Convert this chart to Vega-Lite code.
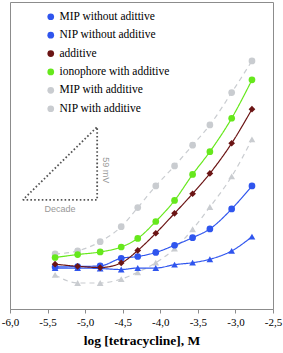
{
  "$schema": "https://vega.github.io/schema/vega-lite/v6.json",
  "width": 263,
  "height": 307,
  "autosize": {"type": "none"},
  "padding": {"left": 10, "top": 2, "right": 10, "bottom": 44},
  "background": "white",
  "config": {"view": {"stroke": "#8c8c8c", "strokeWidth": 1}, "font": "Liberation Serif"},
  "data": {"values": [
    {"series": "MIP with additive", "x": -5.4, "y": 44.5},
    {"series": "MIP with additive", "x": -5.1, "y": 46.9},
    {"series": "MIP with additive", "x": -4.8, "y": 54.4},
    {"series": "MIP with additive", "x": -4.52, "y": 66.5},
    {"series": "MIP with additive", "x": -4.3, "y": 81.9},
    {"series": "MIP with additive", "x": -4.06, "y": 99.4},
    {"series": "MIP with additive", "x": -3.81, "y": 115.6},
    {"series": "MIP with additive", "x": -3.57, "y": 132.3},
    {"series": "MIP with additive", "x": -3.34, "y": 148.7},
    {"series": "MIP with additive", "x": -3.05, "y": 174.8},
    {"series": "MIP with additive", "x": -2.78, "y": 200.4},
    {"series": "NIP with additive", "x": -5.4, "y": 27.5},
    {"series": "NIP with additive", "x": -5.1, "y": 21.0},
    {"series": "NIP with additive", "x": -4.8, "y": 21.0},
    {"series": "NIP with additive", "x": -4.52, "y": 24.2},
    {"series": "NIP with additive", "x": -4.3, "y": 29.7},
    {"series": "NIP with additive", "x": -4.06, "y": 37.4},
    {"series": "NIP with additive", "x": -3.81, "y": 48.7},
    {"series": "NIP with additive", "x": -3.57, "y": 64.4},
    {"series": "NIP with additive", "x": -3.34, "y": 82.4},
    {"series": "NIP with additive", "x": -3.05, "y": 107.1},
    {"series": "NIP with additive", "x": -2.78, "y": 137.0},
    {"series": "NIP without additive", "x": -5.4, "y": 33.1},
    {"series": "NIP without additive", "x": -5.1, "y": 33.1},
    {"series": "NIP without additive", "x": -4.8, "y": 32.7},
    {"series": "NIP without additive", "x": -4.52, "y": 31.9},
    {"series": "NIP without additive", "x": -4.3, "y": 33.1},
    {"series": "NIP without additive", "x": -4.06, "y": 33.1},
    {"series": "NIP without additive", "x": -3.81, "y": 35.8},
    {"series": "NIP without additive", "x": -3.57, "y": 37.4},
    {"series": "NIP without additive", "x": -3.34, "y": 40.2},
    {"series": "NIP without additive", "x": -3.05, "y": 46.9},
    {"series": "NIP without additive", "x": -2.78, "y": 58.4},
    {"series": "MIP without adittive", "x": -5.4, "y": 33.9},
    {"series": "MIP without adittive", "x": -5.1, "y": 34.3},
    {"series": "MIP without adittive", "x": -4.8, "y": 34.8},
    {"series": "MIP without adittive", "x": -4.52, "y": 41.0},
    {"series": "MIP without adittive", "x": -4.3, "y": 42.4},
    {"series": "MIP without adittive", "x": -4.06, "y": 45.7},
    {"series": "MIP without adittive", "x": -3.81, "y": 51.5},
    {"series": "MIP without adittive", "x": -3.57, "y": 57.6},
    {"series": "MIP without adittive", "x": -3.34, "y": 64.7},
    {"series": "MIP without adittive", "x": -3.05, "y": 80.8},
    {"series": "MIP without adittive", "x": -2.78, "y": 99.4},
    {"series": "additive", "x": -5.4, "y": 36.2},
    {"series": "additive", "x": -5.1, "y": 34.5},
    {"series": "additive", "x": -4.8, "y": 33.5},
    {"series": "additive", "x": -4.52, "y": 37.2},
    {"series": "additive", "x": -4.3, "y": 47.3},
    {"series": "additive", "x": -4.06, "y": 61.2},
    {"series": "additive", "x": -3.81, "y": 77.3},
    {"series": "additive", "x": -3.57, "y": 93.1},
    {"series": "additive", "x": -3.34, "y": 109.5},
    {"series": "additive", "x": -3.05, "y": 133.9},
    {"series": "additive", "x": -2.78, "y": 161.4},
    {"series": "ionophore with additive", "x": -5.4, "y": 41.6},
    {"series": "ionophore with additive", "x": -5.1, "y": 44.0},
    {"series": "ionophore with additive", "x": -4.8, "y": 46.1},
    {"series": "ionophore with additive", "x": -4.52, "y": 50.1},
    {"series": "ionophore with additive", "x": -4.3, "y": 57.0},
    {"series": "ionophore with additive", "x": -4.06, "y": 70.7},
    {"series": "ionophore with additive", "x": -3.81, "y": 87.7},
    {"series": "ionophore with additive", "x": -3.57, "y": 108.7},
    {"series": "ionophore with additive", "x": -3.34, "y": 127.1},
    {"series": "ionophore with additive", "x": -3.05, "y": 154.1},
    {"series": "ionophore with additive", "x": -2.78, "y": 185.1}
  ]},
  "encoding": {
    "x": {
      "field": "x", "type": "quantitative",
      "scale": {"domain": [-6, -2.5], "nice": false, "zero": false},
      "axis": {
        "title": "log [tetracycline], M",
        "values": [-6, -5.5, -5, -4.5, -4, -3.5, -3, -2.5],
        "labelExpr": "replace(replace(format(datum.value, '.1f'), '.', ','), '\u2212', '-')",
        "labelFont": "Liberation Serif", "labelFontSize": 11, "labelColor": "#000",
        "labelFlush": false, "labelPadding": 3,
        "tickColor": "#8c8c8c", "tickSize": 4, "domainColor": "#8c8c8c",
        "grid": false,
        "titleFont": "Liberation Serif", "titleFontSize": 13.5, "titleFontWeight": "bold", "titleColor": "#000", "titlePadding": 6
      }
    },
    "y": {"field": "y", "type": "quantitative", "scale": {"domain": [0, 248], "nice": false, "zero": false}, "axis": null}
  },
  "resolve": {"scale": {"color": "independent"}, "legend": {"color": "independent"}},
  "layer": [
    {
      "data": {"values": [
        {"x": -5.83, "y": 88.1, "o": 0},
        {"x": -4.84, "y": 88.1, "o": 1},
        {"x": -4.84, "y": 147.1, "o": 2},
        {"x": -5.83, "y": 88.1, "o": 3}
      ]},
      "mark": {"type": "line", "color": "#555555", "strokeWidth": 1.8, "strokeDash": [1.6, 2.2]},
      "encoding": {"order": {"field": "o", "type": "quantitative"}}
    },
    {
      "data": {"values": [{"x": -4.72, "y": 112, "t": "59 mV"}]},
      "mark": {"type": "text", "angle": 90, "font": "Liberation Sans", "fontSize": 9, "color": "#999", "align": "center", "baseline": "middle"},
      "encoding": {"text": {"field": "t"}}
    },
    {
      "data": {"values": [{"x": -5.335, "y": 80.8, "t": "Decade"}]},
      "mark": {"type": "text", "font": "Liberation Sans", "fontSize": 9, "color": "#999", "align": "center", "baseline": "middle"},
      "encoding": {"text": {"field": "t"}}
    },
    {
      "mark": {"type": "line", "interpolate": "monotone", "strokeWidth": 1.2},
      "encoding": {
        "detail": {"field": "series"},
        "color": {
          "field": "series", "type": "nominal",
          "scale": {
            "domain": ["MIP without adittive", "NIP without additive", "additive", "ionophore with additive", "MIP with additive", "NIP with additive"],
            "range": ["#2f55ee", "#2f55ee", "#6b1414", "#66e81c", "#c9ccd0", "#c9ccd0"]
          },
          "legend": null
        },
        "strokeDash": {
          "field": "series", "type": "nominal",
          "scale": {
            "domain": ["MIP without adittive", "NIP without additive", "additive", "ionophore with additive", "MIP with additive", "NIP with additive"],
            "range": [[1, 0], [1, 0], [1, 0], [1, 0], [5, 4], [5, 4]]
          },
          "legend": null
        }
      }
    },
    {
      "mark": {"type": "point", "filled": true, "opacity": 1, "size": 45},
      "encoding": {
        "color": {
          "field": "series", "type": "nominal",
          "scale": {
            "domain": ["MIP without adittive", "NIP without additive", "additive", "ionophore with additive", "MIP with additive", "NIP with additive"],
            "range": ["#2f55ee", "#2f55ee", "#6b1414", "#66e81c", "#c9ccd0", "#c9ccd0"]
          },
          "legend": {"title": null, "orient": "none", "legendX": 35, "legendY": 9, "padding": 0, "labelFont": "Liberation Serif", "labelFontSize": 11.5, "labelColor": "#000", "symbolSize": 45, "rowPadding": 5.4, "labelOffset": 3, "symbolStrokeWidth": 0}
        },
        "shape": {
          "field": "series", "type": "nominal",
          "scale": {
            "domain": ["MIP without adittive", "NIP without additive", "additive", "ionophore with additive", "MIP with additive", "NIP with additive"],
            "range": ["circle", "triangle-up", "diamond", "circle", "circle", "triangle-up"]
          },
          "legend": {"title": null, "orient": "none", "legendX": 35, "legendY": 9, "padding": 0, "labelFont": "Liberation Serif", "labelFontSize": 11.5, "labelColor": "#000", "symbolSize": 45, "rowPadding": 5.4, "labelOffset": 3, "symbolStrokeWidth": 0}
        }
      }
    }
  ]
}
